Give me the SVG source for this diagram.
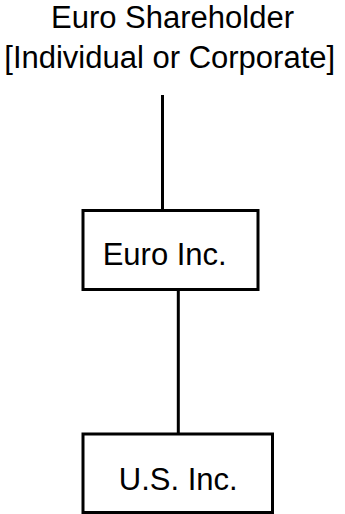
<svg xmlns="http://www.w3.org/2000/svg" width="345" height="514" viewBox="0 0 345 514">
<style>
text{font-family:"Liberation Sans",Arial,sans-serif;font-size:31px;fill:#000;text-anchor:middle}
.box{fill:#fff;stroke:#000;stroke-width:3}
.conn line{stroke:#000;stroke-width:3}
</style>
<rect width="345" height="514" fill="#fff"/>
<g class="conn" id="connectors">
<line x1="162.5" y1="95" x2="162.5" y2="210"/>
<line x1="178.3" y1="290" x2="178.3" y2="434"/>
</g>
<g id="shareholder">
<text x="172.5" y="28">Euro Shareholder</text>
<text x="169.7" y="68">[Individual or Corporate]</text>
</g>
<g id="euro-inc">
<rect class="box" x="83" y="210.5" width="175" height="79"/>
<text x="164.7" y="265">Euro Inc.</text>
</g>
<g id="us-inc">
<rect class="box" x="83" y="434" width="189.5" height="78.5"/>
<text x="178.3" y="490">U.S. Inc.</text>
</g>
</svg>
